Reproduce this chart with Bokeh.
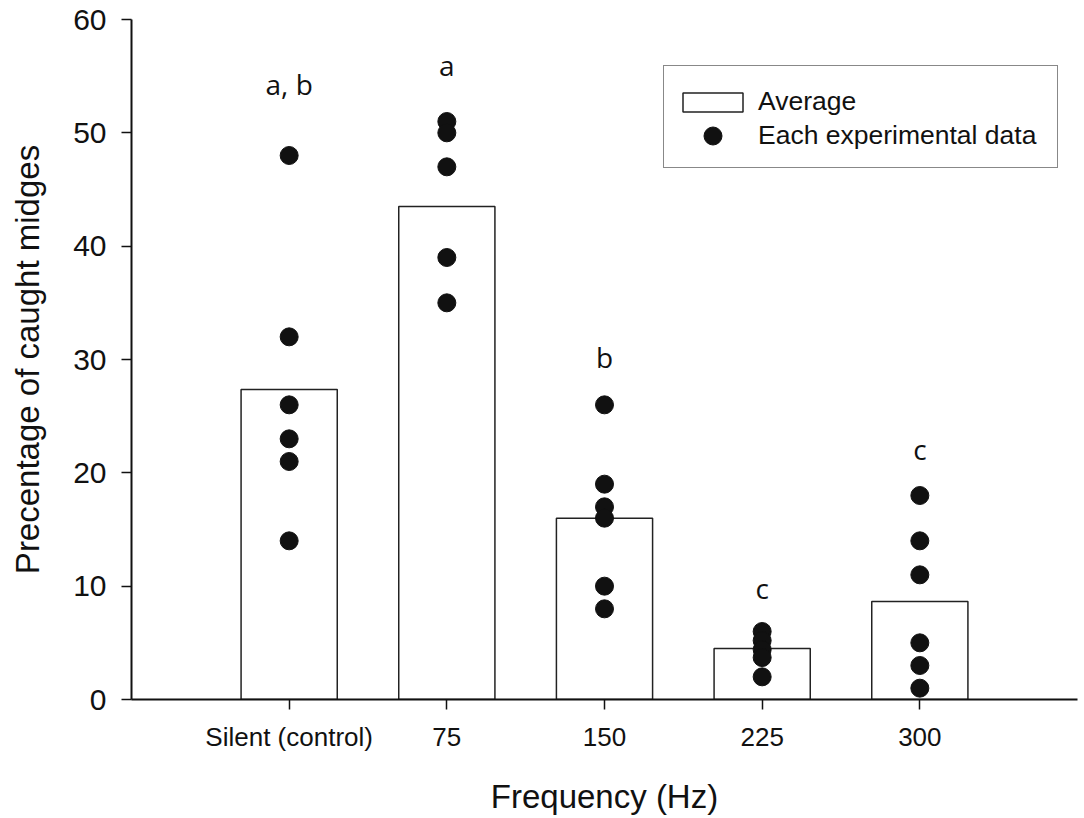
from bokeh.plotting import figure
from bokeh.models import Range1d, FixedTicker, Legend, LegendItem
from bokeh.core.properties import value
from bokeh.embed import file_html
from bokeh.resources import INLINE

# ---- data ----
categories = ["Silent (control)", "75", "150", "225", "300"]
averages = [27.35, 43.5, 16.0, 4.5, 8.65]
silent_points = [48, 32, 26, 23, 21, 14]
hz75_points = [51, 50, 47, 39, 35]
hz150_points = [26, 19, 17, 16, 10, 8]
hz225_points = [6, 5.2, 4.4, 3.7, 2]
hz300_points = [18, 14, 11, 5, 3, 1]
letters = ["a, b", "a", "b", "c", "c"]
letter_y = [54.3, 56.0, 30.2, 9.8, 22.1]
y_ticks = [0, 10, 20, 30, 40, 50, 60]

groups = [silent_points, hz75_points, hz150_points, hz225_points, hz300_points]
xs = list(range(1, len(categories) + 1))
pt_x, pt_y = [], []
for xi, g in zip(xs, groups):
    pt_x += [xi] * len(g)
    pt_y += g

INK = "#111111"
FONT = "Liberation Sans"

p = figure(width=1084, height=818, x_range=Range1d(0, 6), y_range=Range1d(0, 60),
           output_backend="svg", toolbar_location=None,
           min_border_left=131, min_border_right=7, min_border_top=19, min_border_bottom=119)
p.outline_line_color = None
p.xgrid.visible = False
p.ygrid.visible = False
p.background_fill_color = "white"
p.border_fill_color = "white"

bars = p.vbar(x=xs, top=averages, bottom=0, width=0.61, fill_color="white",
              line_color="#222222", line_width=1.5)
pts = p.scatter(x=pt_x, y=pt_y, size=18, marker="circle", fill_color=INK, line_color=INK)
letters_r = p.text(x=xs, y=letter_y, text=letters, text_font=value("Open Sans"),
                   text_font_size="28px", text_align="center", text_baseline="alphabetic",
                   text_color=INK)

for ax in (p.xaxis[0], p.yaxis[0]):
    ax.axis_line_width = 2
    ax.axis_line_color = INK
    ax.major_tick_line_width = 1.5
    ax.major_tick_line_color = INK
    ax.major_tick_out = 10
    ax.major_tick_in = 0
    ax.minor_tick_out = 0
    ax.minor_tick_in = 0
    ax.major_label_text_font = FONT
    ax.major_label_text_color = INK
    ax.axis_label_text_font = FONT
    ax.axis_label_text_font_style = "normal"
    ax.axis_label_text_color = INK
    ax.axis_label_text_font_size = "33px"

p.xaxis.ticker = FixedTicker(ticks=xs)
p.xaxis.major_label_overrides = {x: c for x, c in zip(xs, categories)}
p.xaxis.major_label_text_font_size = "26px"
p.xaxis.major_label_standoff = 12
p.xaxis.axis_label = "Frequency (Hz)"
p.xaxis.axis_label_standoff = 23

p.yaxis.ticker = FixedTicker(ticks=y_ticks)
p.yaxis.major_label_text_font_size = "30px"
p.yaxis.major_label_standoff = 15
p.yaxis.axis_label = "Precentage of caught midges"
p.yaxis.axis_label_standoff = 24

# outer legend frame (white box with black border)
frame_legend = Legend(items=[LegendItem(label=" ", renderers=[letters_r])],
                      location=(532, 531), glyph_width=392, glyph_height=101,
                      label_standoff=0, padding=0, spacing=0, label_height=1,
                      label_width=1, label_text_font_size="1px",
                      border_line_color=INK, border_line_width=1.5,
                      background_fill_color="white", background_fill_alpha=1.0)
p.add_layout(frame_legend)

legend = Legend(items=[LegendItem(label="Average", renderers=[bars]),
                       LegendItem(label="Each experimental data", renderers=[pts])],
                location=(532, 534.5), glyph_width=75, glyph_height=24, label_height=34,
                label_standoff=8, padding=12, spacing=0,
                border_line_alpha=0, background_fill_alpha=0,
                label_text_font=FONT, label_text_font_size="26.5px", label_text_color=INK)
p.add_layout(legend)

dot_legend = Legend(items=[LegendItem(label=" ", renderers=[pts])],
                    location=(544, 541), glyph_width=75, glyph_height=45,
                    label_standoff=0, padding=0, spacing=0,
                    border_line_alpha=0, background_fill_alpha=0,
                    label_text_font_size="1px")
p.add_layout(dot_legend)

open("out.html", "w").write(file_html(p, INLINE))
